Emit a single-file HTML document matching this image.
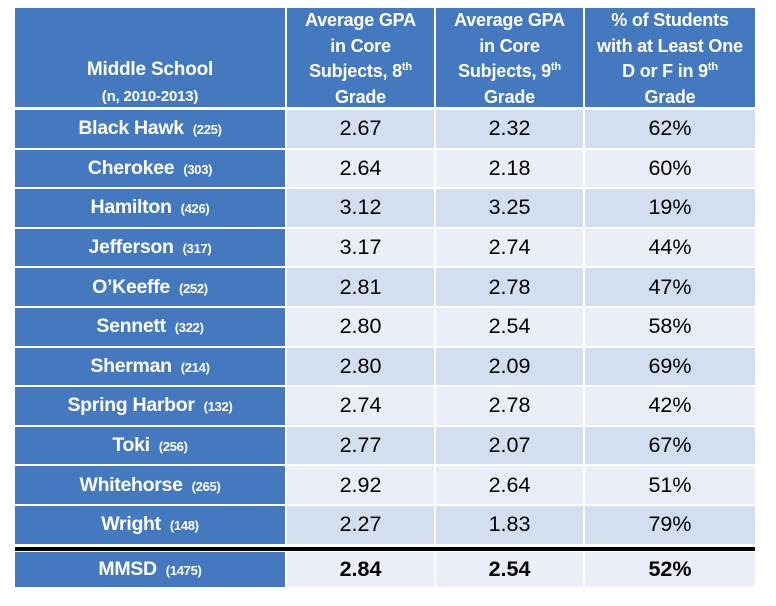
<!DOCTYPE html>
<html><head><style>
body{margin:0;width:776px;height:606px;background:#fff;position:relative;overflow:hidden;font-family:"Liberation Sans",Arial,sans-serif}
.c{position:absolute;display:flex;align-items:center;justify-content:center;text-align:center;box-sizing:border-box}
.h{background:#4579bf;color:#fff;font-weight:bold;font-size:18px;line-height:25.5px;align-items:flex-end;letter-spacing:-0.2px}
.h>div{position:relative;top:3px}
.n{background:#4579bf;color:#fff;font-weight:bold;font-size:19.5px;letter-spacing:-0.3px}
.n small{font-size:13px;margin-left:9px}
.d{color:#000;font-size:21.5px}
sup{font-size:11px;vertical-align:7px;line-height:0}
</style></head><body>
<div class="c h" style="left:15px;top:8px;width:270px;height:99px;font-size:19px;line-height:26px"><div>Middle School<br><span style="font-size:15px">(n, 2010-2013)</span></div></div>
<div class="c h" style="left:287px;top:8px;width:147px;height:99px"><div>Average GPA<br>in Core<br>Subjects, 8<sup>th</sup><br>Grade</div></div>
<div class="c h" style="left:436px;top:8px;width:147px;height:99px"><div>Average GPA<br>in Core<br>Subjects, 9<sup>th</sup><br>Grade</div></div>
<div class="c h" style="left:585px;top:8px;width:170px;height:99px"><div>% of Students<br>with at Least One<br>D or F in 9<sup>th</sup><br>Grade</div></div>
<div id="rows"></div>
<div style="position:absolute;left:15px;top:547px;width:740px;height:4px;background:#000"></div>
<script>
var d=[["Black Hawk","225","2.67","2.32","62%"],["Cherokee","303","2.64","2.18","60%"],["Hamilton","426","3.12","3.25","19%"],["Jefferson","317","3.17","2.74","44%"],["O’Keeffe","252","2.81","2.78","47%"],["Sennett","322","2.80","2.54","58%"],["Sherman","214","2.80","2.09","69%"],["Spring Harbor","132","2.74","2.78","42%"],["Toki","256","2.77","2.07","67%"],["Whitehorse","265","2.92","2.64","51%"],["Wright","148","2.27","1.83","79%"],["MMSD","1475","2.84","2.54","52%"]];
var h="";
d.forEach(function(r,i){
var t,hh,bg,b="";
if(i<11){t=110+39.6*i;hh=37.6;bg=i%2?"#e9eef7":"#d3deef";}else{t=552;hh=35;bg="#e9eef7";b="font-weight:bold;";}
h+='<div class="c n" style="left:15px;top:'+t+'px;width:270px;height:'+hh+'px"><div>'+r[0]+'<small>('+r[1]+')</small></div></div>';
h+='<div class="c d" style="'+b+'left:287px;top:'+t+'px;width:147px;height:'+hh+'px;background:'+bg+'">'+r[2]+'</div>';
h+='<div class="c d" style="'+b+'left:436px;top:'+t+'px;width:147px;height:'+hh+'px;background:'+bg+'">'+r[3]+'</div>';
h+='<div class="c d" style="'+b+'left:585px;top:'+t+'px;width:170px;height:'+hh+'px;background:'+bg+'">'+r[4]+'</div>';
});
document.getElementById("rows").innerHTML=h;
</script>
</body></html>
